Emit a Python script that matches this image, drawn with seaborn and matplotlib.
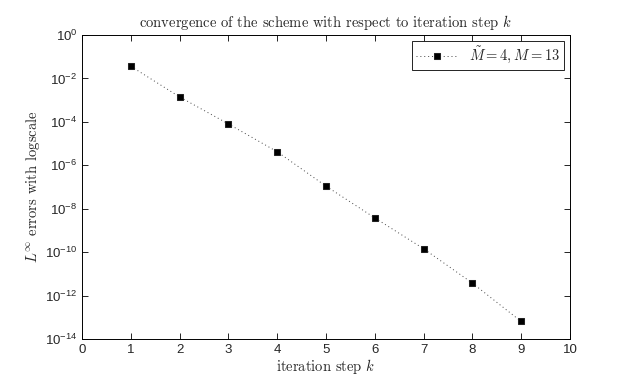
import numpy as np
import pandas as pd
import seaborn as sns
import matplotlib
matplotlib.use("Agg")
import matplotlib.pyplot as plt
from matplotlib.ticker import FixedLocator, NullLocator

## data
steps = [1, 2, 3, 4, 5, 6, 7, 8, 9]
errors = [3.6e-2, 1.4e-3, 8.0e-5, 4.2e-6, 1.1e-7, 3.8e-9, 1.45e-10, 3.8e-12, 6.5e-14]
series_label = r"$\tilde{M}=4, M=13$"
yticks = [10.0 ** e for e in range(-14, 1, 2)]
xticks = list(range(0, 11))

df = pd.DataFrame({"k": steps, "err": errors})

sns.set_style("ticks")
plt.rcParams["font.family"] = ["Liberation Sans", "DejaVu Sans"]
plt.rcParams["mathtext.fontset"] = "custom"
plt.rcParams["mathtext.rm"] = "Liberation Sans"
plt.rcParams["mathtext.it"] = "Liberation Sans:italic"
plt.rcParams["xtick.direction"] = "in"
plt.rcParams["ytick.direction"] = "in"

fig = plt.figure(figsize=(6.27, 3.76), dpi=100)
ax = fig.add_axes([0.131, 0.098, 0.778, 0.809])

sns.lineplot(data=df, x="k", y="err", ax=ax, color="#444444", linestyle=(0, (1, 3)),
             linewidth=0.7, marker="s", markersize=5, markeredgecolor="#222222",
             markerfacecolor="black", label=series_label)

ax.set_yscale("log")
ax.set_xlim(0, 10)
ax.set_ylim(1e-14, 1e0)
ax.xaxis.set_major_locator(FixedLocator(xticks))
ax.yaxis.set_major_locator(FixedLocator(yticks))
ax.yaxis.set_minor_locator(NullLocator())
ax.tick_params(axis="both", which="major", labelsize=9.5, length=4, width=0.6,
               top=True, right=True, color="black")
for s in ax.spines.values():
    s.set_linewidth(0.7)
    s.set_color("black")

ax.set_title("convergence of the scheme with respect to iteration step $k$",
             fontsize=10.5, family="cmr10", math_fontfamily="cm", pad=6)
ax.set_xlabel("iteration step $k$", fontsize=10.5, family="cmr10",
              math_fontfamily="cm", labelpad=1)
ax.set_ylabel(r"$L^\infty$ errors with logscale", fontsize=10.5, family="cmr10",
              math_fontfamily="cm", labelpad=2)

leg = ax.legend(loc="upper right", fancybox=False, framealpha=1, edgecolor="black",
                borderaxespad=0.4, handlelength=3.0, borderpad=0.3, numpoints=1)
leg.get_frame().set_linewidth(0.6)
for t in leg.get_texts():
    t.set_fontsize(10.5)
    t.set_math_fontfamily("cm")

fig.savefig("out.png", dpi=100)
